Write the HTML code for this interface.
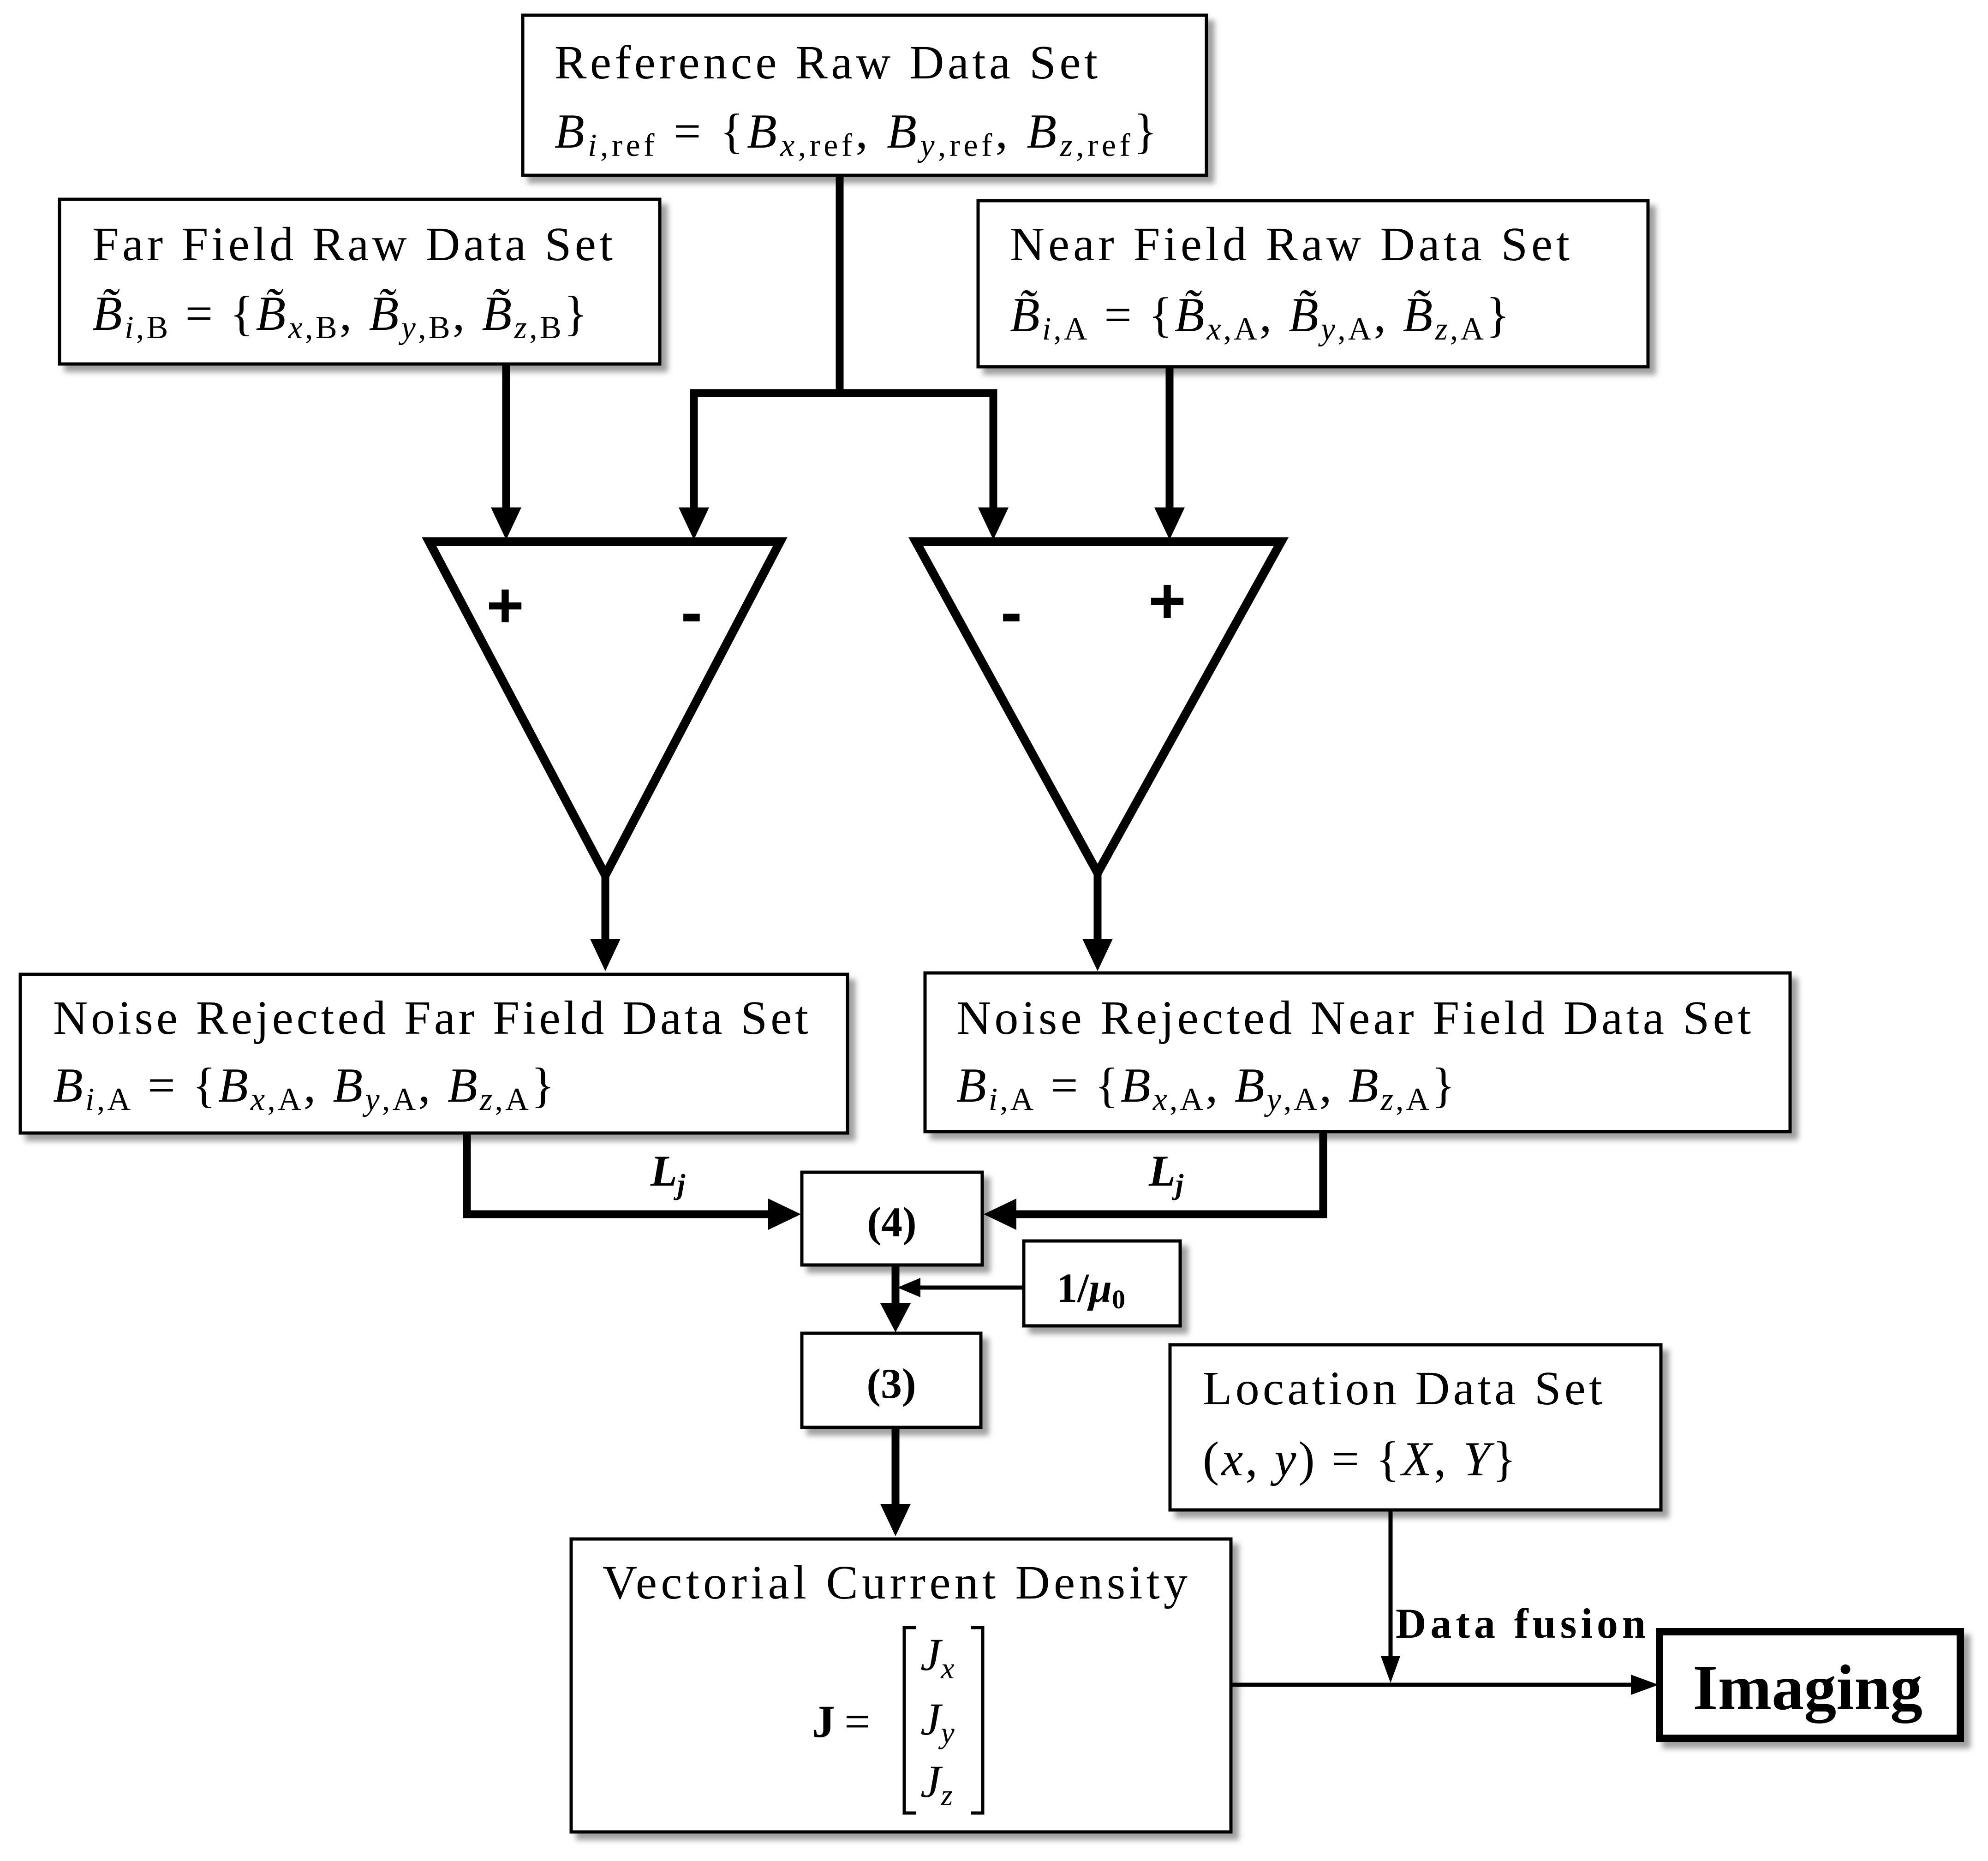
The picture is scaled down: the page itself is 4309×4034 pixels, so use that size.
<!DOCTYPE html>
<html><head><meta charset="utf-8"><style>
html,body{margin:0;padding:0;background:#fff}
svg{display:block}
text{font-family:"Liberation Serif",serif;fill:#000}
.t{font-size:104px}
.m{font-size:106px}
.s{font-size:70px}
</style></head><body>
<svg width="4309" height="4034" viewBox="0 0 4309 4034" xmlns="http://www.w3.org/2000/svg">
<defs>
<filter id="sh" x="-5%" y="-5%" width="115%" height="120%"><feDropShadow dx="14" dy="14" stdDeviation="6" flood-color="#777" flood-opacity="0.7"/></filter>
</defs>
<g fill="#fff" stroke="#000" stroke-width="7" filter="url(#sh)">
<rect x="1133" y="33" width="1482" height="347"/>
<rect x="129" y="432" width="1301" height="357"/>
<rect x="2120" y="435" width="1452" height="360"/>
<rect x="44" y="2112" width="1793" height="344"/>
<rect x="2005" y="2109" width="1875" height="344"/>
<rect x="1738" y="2541" width="391" height="201"/>
<rect x="2219" y="2690" width="339" height="184"/>
<rect x="1738" y="2890" width="388" height="204"/>
<rect x="1238" y="3336" width="1430" height="635"/>
<rect x="2536" y="2915" width="1064" height="358"/>
<rect x="3597" y="3537" width="652" height="231" stroke-width="16"/>
</g>
<polygon points="930,1174 1691,1174 1312,1897" fill="none" stroke="#000" stroke-width="19"/>
<polygon points="1985,1174 2777,1174 2379,1892" fill="none" stroke="#000" stroke-width="19"/>
<g fill="none" stroke="#000" stroke-width="17">
<polyline points="1820,380 1820,852"/>
<polyline points="1504,1100 1504,852 2153,852 2153,1100"/>
<line x1="1097" y1="789" x2="1097" y2="1100"/>
<line x1="2535" y1="795" x2="2535" y2="1100"/>
<line x1="1312" y1="1890" x2="1312" y2="2040"/>
<line x1="2379" y1="1885" x2="2379" y2="2040"/>
<polyline points="1012,2456 1012,2632 1670,2632"/>
<polyline points="2868,2453 2868,2632 2200,2632"/>
<line x1="1941" y1="2742" x2="1941" y2="2830"/>
<line x1="1941" y1="3094" x2="1941" y2="3265"/>
</g>
<g fill="none" stroke="#000" stroke-width="9">
<line x1="2219" y1="2791" x2="1990" y2="2791"/>
<line x1="3014" y1="3273" x2="3014" y2="3600"/>
<line x1="2668" y1="3652" x2="3540" y2="3652"/>
</g>
<g fill="#000">
<polygon points="1064,1100 1130,1100 1097,1170"/>
<polygon points="1471,1100 1537,1100 1504,1170"/>
<polygon points="2120,1100 2186,1100 2153,1170"/>
<polygon points="2502,1100 2568,1100 2535,1170"/>
<polygon points="1279,2035 1345,2035 1312,2105"/>
<polygon points="2346,2035 2412,2035 2379,2105"/>
<polygon points="1665,2598 1665,2666 1736,2632"/>
<polygon points="2203,2598 2203,2666 2132,2632"/>
<polygon points="1908,2825 1974,2825 1941,2888"/>
<polygon points="1945,2791 1995,2770 1995,2812"/>
<polygon points="1908,3260 1974,3260 1941,3330"/>
<polygon points="2993,3590 3035,3590 3014,3648"/>
<polygon points="3535,3630 3535,3674 3595,3652"/>
</g>
<g font-weight="bold" font-size="140">
<text x="1095" y="1360" text-anchor="middle" style="font-family:'Liberation Sans',sans-serif">+</text>
<text x="1499" y="1375" text-anchor="middle" style="font-family:'Liberation Sans',sans-serif">-</text>
<text x="2192" y="1375" text-anchor="middle" style="font-family:'Liberation Sans',sans-serif">-</text>
<text x="2530" y="1350" text-anchor="middle" style="font-family:'Liberation Sans',sans-serif">+</text>
</g>

<text class="t" x="1202" y="170" textLength="1177" lengthAdjust="spacing">Reference Raw Data Set</text>
<text class="m" x="1202" y="320" textLength="1306" lengthAdjust="spacing"><tspan font-style="italic">B</tspan><tspan class="s" dy="18"><tspan font-style="italic">i</tspan>,ref</tspan><tspan dy="-18"> = {</tspan><tspan font-style="italic">B</tspan><tspan class="s" dy="18"><tspan font-style="italic">x</tspan>,ref</tspan><tspan dy="-18">, </tspan><tspan font-style="italic">B</tspan><tspan class="s" dy="18"><tspan font-style="italic">y</tspan>,ref</tspan><tspan dy="-18">, </tspan><tspan font-style="italic">B</tspan><tspan class="s" dy="18"><tspan font-style="italic">z</tspan>,ref</tspan><tspan dy="-18">}</tspan></text>

<text class="t" x="200" y="564" textLength="1128" lengthAdjust="spacing">Far Field Raw Data Set</text>
<text class="m" x="200" y="715" textLength="1073" lengthAdjust="spacing"><tspan font-style="italic">B̃</tspan><tspan class="s" dy="18"><tspan font-style="italic">i</tspan>,B</tspan><tspan dy="-18"> = {</tspan><tspan font-style="italic">B̃</tspan><tspan class="s" dy="18"><tspan font-style="italic">x</tspan>,B</tspan><tspan dy="-18">, </tspan><tspan font-style="italic">B̃</tspan><tspan class="s" dy="18"><tspan font-style="italic">y</tspan>,B</tspan><tspan dy="-18">, </tspan><tspan font-style="italic">B̃</tspan><tspan class="s" dy="18"><tspan font-style="italic">z</tspan>,B</tspan><tspan dy="-18">}</tspan></text>

<text class="t" x="2189" y="564" textLength="1213" lengthAdjust="spacing">Near Field Raw Data Set</text>
<text class="m" x="2189" y="718" textLength="1083" lengthAdjust="spacing"><tspan font-style="italic">B̃</tspan><tspan class="s" dy="18"><tspan font-style="italic">i</tspan>,A</tspan><tspan dy="-18"> = {</tspan><tspan font-style="italic">B̃</tspan><tspan class="s" dy="18"><tspan font-style="italic">x</tspan>,A</tspan><tspan dy="-18">, </tspan><tspan font-style="italic">B̃</tspan><tspan class="s" dy="18"><tspan font-style="italic">y</tspan>,A</tspan><tspan dy="-18">, </tspan><tspan font-style="italic">B̃</tspan><tspan class="s" dy="18"><tspan font-style="italic">z</tspan>,A</tspan><tspan dy="-18">}</tspan></text>

<text class="t" x="115" y="2241" textLength="1637" lengthAdjust="spacing">Noise Rejected Far Field Data Set</text>
<text class="m" x="115" y="2388" textLength="1087" lengthAdjust="spacing"><tspan font-style="italic">B</tspan><tspan class="s" dy="18"><tspan font-style="italic">i</tspan>,A</tspan><tspan dy="-18"> = {</tspan><tspan font-style="italic">B</tspan><tspan class="s" dy="18"><tspan font-style="italic">x</tspan>,A</tspan><tspan dy="-18">, </tspan><tspan font-style="italic">B</tspan><tspan class="s" dy="18"><tspan font-style="italic">y</tspan>,A</tspan><tspan dy="-18">, </tspan><tspan font-style="italic">B</tspan><tspan class="s" dy="18"><tspan font-style="italic">z</tspan>,A</tspan><tspan dy="-18">}</tspan></text>

<text class="t" x="2073" y="2241" textLength="1722" lengthAdjust="spacing">Noise Rejected Near Field Data Set</text>
<text class="m" x="2073" y="2388" textLength="1081" lengthAdjust="spacing"><tspan font-style="italic">B</tspan><tspan class="s" dy="18"><tspan font-style="italic">i</tspan>,A</tspan><tspan dy="-18"> = {</tspan><tspan font-style="italic">B</tspan><tspan class="s" dy="18"><tspan font-style="italic">x</tspan>,A</tspan><tspan dy="-18">, </tspan><tspan font-style="italic">B</tspan><tspan class="s" dy="18"><tspan font-style="italic">y</tspan>,A</tspan><tspan dy="-18">, </tspan><tspan font-style="italic">B</tspan><tspan class="s" dy="18"><tspan font-style="italic">z</tspan>,A</tspan><tspan dy="-18">}</tspan></text>

<text x="1410" y="2570" font-size="95" font-weight="bold" font-style="italic">L<tspan font-size="62" dy="18">j</tspan></text>
<text x="2490" y="2570" font-size="95" font-weight="bold" font-style="italic">L<tspan font-size="62" dy="18">j</tspan></text>

<text x="1933" y="2680" font-size="92" font-weight="bold" text-anchor="middle">(4)</text>
<text x="1932" y="3030" font-size="92" font-weight="bold" text-anchor="middle">(3)</text>
<text x="2290" y="2822" font-size="90" font-weight="bold">1/<tspan font-style="italic">μ</tspan><tspan font-size="58" dy="14">0</tspan></text>

<text class="t" x="1306" y="3465" textLength="1268" lengthAdjust="spacing">Vectorial Current Density</text>
<text x="1760" y="3765" font-size="100" font-weight="bold">J</text>
<text x="1830" y="3765" font-size="100">=</text>
<path d="M1985,3528 L1960,3528 L1960,3930 L1985,3930 M2105,3528 L2130,3528 L2130,3930 L2105,3930" fill="none" stroke="#000" stroke-width="7"/>
<text x="1995" y="3620" font-size="100" font-style="italic">J<tspan font-size="66" dy="18">x</tspan></text>
<text x="1995" y="3760" font-size="100" font-style="italic">J<tspan font-size="66" dy="18">y</tspan></text>
<text x="1995" y="3895" font-size="100" font-style="italic">J<tspan font-size="66" dy="18">z</tspan></text>

<text class="t" x="2607" y="3044" textLength="866" lengthAdjust="spacing">Location Data Set</text>
<text class="m" x="2607" y="3198" textLength="679" lengthAdjust="spacing">(<tspan font-style="italic">x</tspan>, <tspan font-style="italic">y</tspan>) = {<tspan font-style="italic">X</tspan>, <tspan font-style="italic">Y</tspan>}</text>

<text x="3025" y="3550" font-size="92" font-weight="bold" textLength="542" lengthAdjust="spacing">Data fusion</text>
<text x="3918" y="3705" font-size="140" font-weight="bold" text-anchor="middle">Imaging</text>
</svg>
</body></html>
